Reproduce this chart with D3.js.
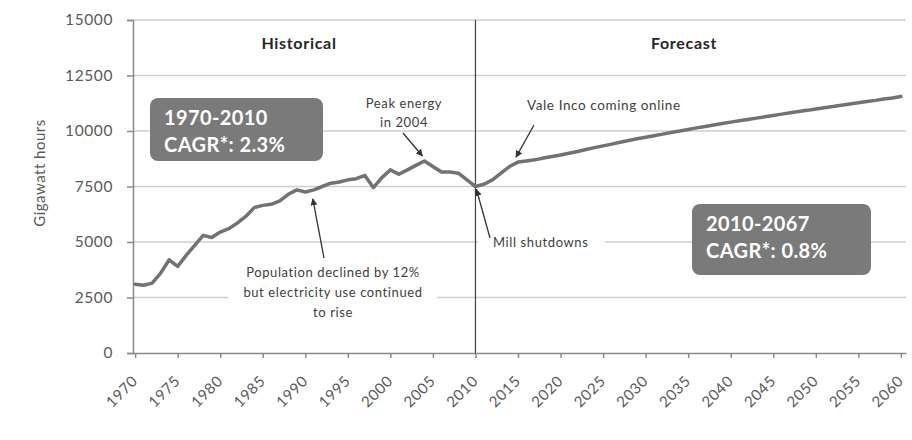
<!DOCTYPE html>
<html><head><meta charset="utf-8">
<script src="https://cdn.jsdelivr.net/npm/d3@7"></script>
<style>body{margin:0;background:#fff}svg{display:block}</style>
</head><body>
<svg id="c" width="912" height="440"></svg>
<script>
const histYears = d3.range(1970, 2011);
const histValues = [3100,3050,3150,3600,4200,3900,4400,4850,5300,5200,
  5450,5600,5850,6150,6550,6650,6700,6850,7150,7350,
  7250,7350,7500,7650,7700,7800,7850,8000,7450,7900,
  8250,8050,8250,8450,8650,8400,8150,8150,8100,7800,7500];
const foreYears = d3.range(2010, 2061);
const foreValues = [7500,7600,7800,8100,8400,8600,8650,8700,8780,8850,
  8920,9000,9080,9170,9250,9330,9410,9490,9570,9650,
  9720,9790,9860,9930,10000,10070,10140,10200,10270,10340,
  10400,10460,10520,10580,10640,10700,10760,10820,10880,10930,
  10990,11050,11100,11160,11220,11270,11330,11380,11440,11490,11550];
const xTickYears = d3.range(1970, 2061, 5);
const yTicks = [0,2500,5000,7500,10000,12500,15000];

const svg = d3.select("#c");
const x = d3.scaleLinear().domain([1969.75, 2060.6]).range([133, 906]);
const y = d3.scaleLinear().domain([0, 15000]).range([353, 20]);
const font = "Lato, 'Open Sans', sans-serif";

// gridlines
svg.append("g").selectAll("line").data(yTicks.filter(d=>d>0)).join("line")
  .attr("x1", 133).attr("x2", 906).attr("y1", d=>y(d)).attr("y2", d=>y(d))
  .attr("stroke", "#cfcfcf").attr("stroke-width", 1.5);

// y axis
const yAxis = svg.append("g").attr("transform", "translate(133,0)")
  .call(d3.axisLeft(y).tickValues(yTicks).tickSize(6).tickPadding(14).tickFormat(d=>d));
yAxis.select(".domain").attr("stroke", "#8a8a8a").attr("stroke-width", 1.5);
yAxis.selectAll(".tick line").attr("stroke", "#8a8a8a").attr("stroke-width", 1.5);
yAxis.selectAll("text").attr("font-family", font).attr("font-size", 15.5)
  .attr("letter-spacing", "0.6px").attr("fill", "#595959");

// x axis
const xAxis = svg.append("g").attr("transform", "translate(0,353)")
  .call(d3.axisBottom(x).tickValues(xTickYears).tickSize(5).tickSizeOuter(0).tickFormat(d=>d));
xAxis.select(".domain").attr("stroke", "#8a8a8a").attr("stroke-width", 1.5);
xAxis.selectAll(".tick line").attr("stroke", "#8a8a8a").attr("stroke-width", 1.5);
xAxis.selectAll("text").attr("font-family", font).attr("font-size", 15)
  .attr("letter-spacing", "0.6px").attr("fill", "#595959")
  .attr("text-anchor", "end").attr("x", 0).attr("y", 0).attr("dy", 0).attr("dx", 0)
  .attr("transform", "translate(3,29) rotate(-45)");

// y label
svg.append("text").attr("transform", "translate(45,173) rotate(-90)")
  .attr("text-anchor", "middle").attr("font-family", font).attr("font-size", 15)
  .attr("letter-spacing", "0.5px").attr("fill", "#595959").text("Gigawatt hours");

// divider at 2010
svg.append("line").attr("x1", x(2010)).attr("x2", x(2010)).attr("y1", 20).attr("y2", 353)
  .attr("stroke", "#404040").attr("stroke-width", 1.2);

// section titles
function title(xp, txt){
  svg.append("text").attr("x", xp).attr("y", 49).attr("text-anchor", "middle")
    .attr("font-family", font).attr("font-weight", "bold").attr("font-size", 16)
    .attr("letter-spacing", "0.7px").attr("fill", "#262626").text(txt);
}
title(299, "Historical");
title(684, "Forecast");

// text backgrounds (break gridlines)
svg.append("rect").attr("x", 228).attr("y", 262).attr("width", 209).attr("height", 58).attr("fill", "#fff");
svg.append("rect").attr("x", 478).attr("y", 234).attr("width", 127).attr("height", 16).attr("fill", "#fff");

// line
const line = d3.line().x(d=>x(d[0])).y(d=>y(d[1]));
const hist = histYears.map((d,i)=>[d, histValues[i]]);
const fore = foreYears.map((d,i)=>[d, foreValues[i]]);
svg.append("path").datum(hist.concat(fore.slice(1))).attr("d", line)
  .attr("fill", "none").attr("stroke", "#727272").attr("stroke-width", 3.5)
  .attr("stroke-linejoin", "round").attr("stroke-linecap", "round");

// arrow marker
svg.append("defs").append("marker").attr("id", "ah").attr("viewBox", "0 0 10 10")
  .attr("refX", 9).attr("refY", 5).attr("markerWidth", 7).attr("markerHeight", 7)
  .attr("orient", "auto-start-reverse").attr("markerUnits", "userSpaceOnUse")
  .append("path").attr("d", "M0,0 L10,5 L0,10 z").attr("fill", "#333");

function arrow(x1,y1,x2,y2){
  svg.append("line").attr("x1",x1).attr("y1",y1).attr("x2",x2).attr("y2",y2)
    .attr("stroke","#333").attr("stroke-width",1.3).attr("marker-end","url(#ah)");
}
function label(xp, yp, lines, anchor, size, gap){
  const t = svg.append("text").attr("x", xp).attr("y", yp).attr("text-anchor", anchor)
    .attr("font-family", font).attr("font-size", size).attr("letter-spacing", "0.6px")
    .attr("fill", "#404040");
  lines.forEach((l,i)=>t.append("tspan").attr("x", xp).attr("dy", i?gap:0).text(l));
}

// annotations
label(404, 108, ["Peak energy", "in 2004"], "middle", 13, 19);
arrow(403, 133, x(2004)-2, y(8650)-5);
label(527, 110, ["Vale Inco coming online"], "start", 13.5, 0);
arrow(534, 125, x(2015)-2, y(8600)-5);
label(493, 247, ["Mill shutdowns"], "start", 13, 0);
arrow(490, 238, x(2010)+1, y(7500)+3);
label(333, 277, ["Population declined by 12%", "but electricity use continued", "to rise"], "middle", 13, 20);
arrow(324, 258, x(1991)-1, y(7300)+8);

// CAGR boxes
function box(bx, by, w, h, l1, l2){
  svg.append("rect").attr("x", bx).attr("y", by).attr("width", w).attr("height", h)
    .attr("rx", 8).attr("fill", "#7a7a7a");
  const t = svg.append("text").attr("font-family", font).attr("font-weight", "bold")
    .attr("font-size", 20).attr("letter-spacing", "0.4px").attr("fill", "#fff");
  t.append("tspan").attr("x", bx+14).attr("y", by+27).text(l1);
  t.append("tspan").attr("x", bx+14).attr("y", by+54).text(l2);
}
box(150, 98, 173, 63, "1970-2010", "CAGR*: 2.3%");
box(692, 204, 179, 71, "2010-2067", "CAGR*: 0.8%");
</script>
</body></html>
